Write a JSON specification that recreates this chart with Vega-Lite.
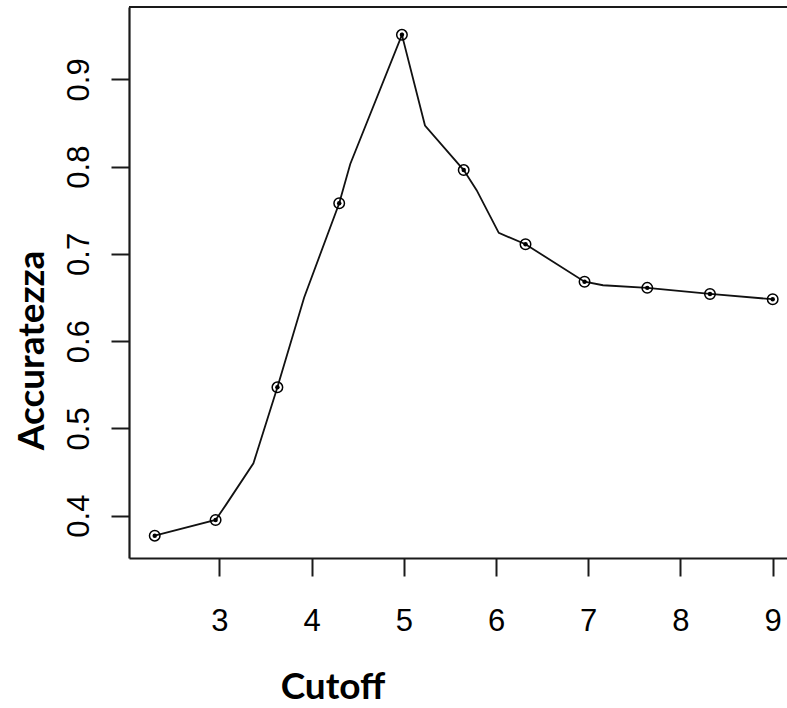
{
  "$schema": "https://vega.github.io/schema/vega-lite/v6.json",
  "autosize": "none",
  "width": 658,
  "height": 551,
  "padding": {"left": 129, "top": 7, "right": 0, "bottom": 150},
  "background": "white",
  "config": {
    "view": {"stroke": null}
  },
  "datasets": {
    "curve": [
      {"cutoff": 2.30, "acc": 0.377},
      {"cutoff": 2.96, "acc": 0.395},
      {"cutoff": 3.07, "acc": 0.412},
      {"cutoff": 3.37, "acc": 0.460},
      {"cutoff": 3.63, "acc": 0.547},
      {"cutoff": 3.92, "acc": 0.650},
      {"cutoff": 4.30, "acc": 0.758},
      {"cutoff": 4.42, "acc": 0.803},
      {"cutoff": 4.98, "acc": 0.951},
      {"cutoff": 5.23, "acc": 0.847},
      {"cutoff": 5.65, "acc": 0.796},
      {"cutoff": 5.79, "acc": 0.773},
      {"cutoff": 6.03, "acc": 0.724},
      {"cutoff": 6.32, "acc": 0.711},
      {"cutoff": 6.96, "acc": 0.668},
      {"cutoff": 7.16, "acc": 0.664},
      {"cutoff": 7.64, "acc": 0.661},
      {"cutoff": 8.32, "acc": 0.654},
      {"cutoff": 9.00, "acc": 0.648}
    ],
    "pts": [
      {"cutoff": 2.30, "acc": 0.377},
      {"cutoff": 2.96, "acc": 0.395},
      {"cutoff": 3.63, "acc": 0.547},
      {"cutoff": 4.30, "acc": 0.758},
      {"cutoff": 4.98, "acc": 0.951},
      {"cutoff": 5.65, "acc": 0.796},
      {"cutoff": 6.32, "acc": 0.711},
      {"cutoff": 6.96, "acc": 0.668},
      {"cutoff": 7.64, "acc": 0.661},
      {"cutoff": 8.32, "acc": 0.654},
      {"cutoff": 9.00, "acc": 0.648}
    ],
    "frame": [
      {"top": 0.9829}
    ]
  },
  "encoding": {
    "x": {
      "field": "cutoff",
      "type": "quantitative",
      "scale": {"domain": [2.021, 9.155], "nice": false, "zero": false},
      "axis": {
        "title": "Cutoff",
        "grid": false,
        "domain": true,
        "domainColor": "#1a1a1a",
        "domainWidth": 2.2,
        "ticks": true,
        "tickSize": 18,
        "tickWidth": 2,
        "tickColor": "#1a1a1a",
        "tickOpacity": 1,
        "values": [3, 4, 5, 6, 7, 8, 9],
        "labelFont": "Liberation Sans",
        "labelFontSize": 31,
        "labelColor": "#000000",
        "labelFlush": false,
        "labelOverlap": false,
        "labelPadding": 54,
        "labelBaseline": "alphabetic",
        "labelAlign": "center",
        "titleFont": "Lato",
        "titleFontWeight": "bold",
        "titleFontSize": 37,
        "titleColor": "#000000",
        "titleX": 203.5,
        "titleY": 140.5,
        "titleAlign": "center",
        "titleBaseline": "alphabetic",
        "titleAnchor": null
      }
    },
    "y": {
      "field": "acc",
      "type": "quantitative",
      "scale": {"domain": [0.3514, 0.9829], "nice": false, "zero": false},
      "axis": {
        "title": "Accuratezza",
        "grid": false,
        "domain": true,
        "domainColor": "#1a1a1a",
        "domainWidth": 2.2,
        "ticks": true,
        "tickSize": 18,
        "tickWidth": 2,
        "tickColor": "#1a1a1a",
        "tickOpacity": 1,
        "values": [0.4, 0.5, 0.6, 0.7, 0.8, 0.9],
        "labelFont": "Liberation Sans",
        "labelFontSize": 31,
        "labelColor": "#000000",
        "labelFlush": false,
        "labelOverlap": false,
        "labelAngle": -90,
        "labelAlign": "center",
        "labelBaseline": "alphabetic",
        "labelPadding": 23,
        "titleFont": "Lato",
        "titleFontWeight": "bold",
        "titleFontSize": 37,
        "titleColor": "#000000",
        "titleAngle": -90,
        "titleX": -86,
        "titleY": 343,
        "titleAlign": "center",
        "titleBaseline": "alphabetic",
        "titleAnchor": null
      }
    }
  },
  "layer": [
    {
      "data": {"name": "frame"},
      "mark": {"type": "rule", "color": "#1a1a1a", "strokeWidth": 2.2},
      "encoding": {"y": {"field": "top", "type": "quantitative"}, "x": {"value": 0}, "x2": {"value": 658}}
    },
    {
      "data": {"name": "curve"},
      "mark": {"type": "line", "color": "#111111", "strokeWidth": 1.8}
    },
    {
      "data": {"name": "pts"},
      "mark": {"type": "point", "shape": "circle", "filled": false, "stroke": "#000000", "strokeWidth": 1.5, "size": 110, "opacity": 1}
    },
    {
      "data": {"name": "pts"},
      "mark": {"type": "point", "shape": "circle", "filled": true, "color": "#000000", "size": 20, "opacity": 1}
    }
  ]
}
